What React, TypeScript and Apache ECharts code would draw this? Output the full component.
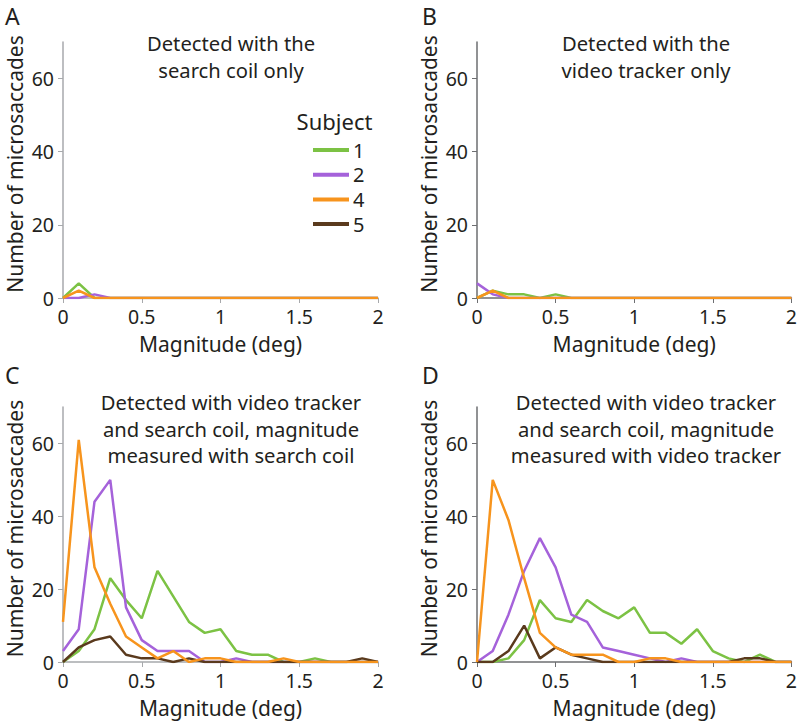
import React, { useEffect, useRef } from "react";
import * as echarts from "echarts";

// Bin centres (deg)
const X = [0, 0.1, 0.2, 0.3, 0.4, 0.5, 0.6, 0.7, 0.8, 0.9, 1.0, 1.1, 1.2, 1.3, 1.4, 1.5, 1.6, 1.7, 1.8, 1.9, 2.0];

const SUBJECTS = ["1", "2", "4", "5"];
const COLORS = ["#7cc244", "#a562da", "#f7941d", "#5a3a1d"];

// Panel A: detected with the search coil only
const A_S1 = [0, 4, 0, 0, 0, 0, 0, 0, 0, 0, 0, 0, 0, 0, 0, 0, 0, 0, 0, 0, 0];
const A_S2 = [0, 0, 1, 0, 0, 0, 0, 0, 0, 0, 0, 0, 0, 0, 0, 0, 0, 0, 0, 0, 0];
const A_S4 = [0, 2, 0, 0, 0, 0, 0, 0, 0, 0, 0, 0, 0, 0, 0, 0, 0, 0, 0, 0, 0];
const A_S5 = [0, 0, 0, 0, 0, 0, 0, 0, 0, 0, 0, 0, 0, 0, 0, 0, 0, 0, 0, 0, 0];

// Panel B: detected with the video tracker only
const B_S1 = [0, 2, 1, 1, 0, 1, 0, 0, 0, 0, 0, 0, 0, 0, 0, 0, 0, 0, 0, 0, 0];
const B_S2 = [4, 1, 0, 0, 0, 0, 0, 0, 0, 0, 0, 0, 0, 0, 0, 0, 0, 0, 0, 0, 0];
const B_S4 = [0, 2, 0, 0, 0, 0, 0, 0, 0, 0, 0, 0, 0, 0, 0, 0, 0, 0, 0, 0, 0];
const B_S5 = [0, 0, 0, 0, 0, 0, 0, 0, 0, 0, 0, 0, 0, 0, 0, 0, 0, 0, 0, 0, 0];

// Panel C: both, magnitude measured with search coil
const C_S1 = [0, 3, 9, 23, 17, 12, 25, 18, 11, 8, 9, 3, 2, 2, 0, 0, 1, 0, 0, 0, 0];
const C_S2 = [3, 9, 44, 50, 15, 6, 3, 3, 3, 0, 0, 1, 0, 0, 0, 0, 0, 0, 0, 0, 0];
const C_S4 = [11, 61, 26, 16, 7, 4, 1, 3, 0, 1, 1, 0, 0, 0, 1, 0, 0, 0, 0, 0, 0];
const C_S5 = [0, 4, 6, 7, 2, 1, 1, 0, 1, 0, 0, 0, 0, 0, 0, 0, 0, 0, 0, 1, 0];

// Panel D: both, magnitude measured with video tracker
const D_S1 = [0, 0, 1, 6, 17, 12, 11, 17, 14, 12, 15, 8, 8, 5, 9, 3, 1, 0, 2, 0, 0];
const D_S2 = [0, 3, 13, 25, 34, 26, 13, 11, 4, 3, 2, 1, 0, 1, 0, 0, 0, 0, 0, 0, 0];
const D_S4 = [0, 50, 39, 23, 8, 4, 2, 2, 2, 0, 0, 1, 1, 0, 0, 0, 0, 0, 0, 0, 0];
const D_S5 = [0, 0, 3, 10, 1, 4, 2, 1, 0, 0, 0, 0, 0, 0, 0, 0, 0, 1, 1, 0, 0];

const Y_TICKS = [0, 20, 40, 60];
const X_TICKS = [0, 0.5, 1, 1.5, 2];

const PANEL_LETTERS = ["A", "B", "C", "D"];
const PANEL_TITLES = [
  ["Detected with the", "search coil only"],
  ["Detected with the", "video tracker only"],
  ["Detected with video tracker", "and search coil, magnitude", "measured with search coil"],
  ["Detected with video tracker", "and search coil, magnitude", "measured with video tracker"],
];

const PANELS = [
  [A_S1, A_S2, A_S4, A_S5],
  [B_S1, B_S2, B_S4, B_S5],
  [C_S1, C_S2, C_S4, C_S5],
  [D_S1, D_S2, D_S4, D_S5],
];

const FONT = "'Noto Sans', 'Open Sans', sans-serif";
const TXT = "#231f20";

export default function App() {
  const ref = useRef<HTMLDivElement>(null);
  useEffect(() => {
    if (!ref.current) return;
    const chart = echarts.init(ref.current, null, { renderer: "svg" });

    const grids = [
      { left: 63, top: 42, width: 315, height: 256 },
      { left: 477, top: 42, width: 315, height: 256 },
      { left: 63, top: 407, width: 315, height: 255 },
      { left: 477, top: 407, width: 315, height: 255 },
    ];
    const axisColors = ["#a7a9ac", "#6d6e71", "#a7a9ac", "#6d6e71"];

    const xAxis = grids.map((_, i) => ({
      type: "value",
      gridIndex: i,
      min: 0,
      max: 2,
      interval: 0.5,
      name: "Magnitude (deg)",
      nameLocation: "middle",
      nameGap: 35,
      nameTextStyle: { fontFamily: FONT, fontSize: 21, color: TXT },
      axisLine: { show: true, lineStyle: { color: axisColors[i], width: 1.5 } },
      axisTick: { show: true, inside: false, length: 5, lineStyle: { color: axisColors[i] } },
      axisLabel: {
        customValues: X_TICKS,
        margin: 8,
        fontFamily: FONT,
        fontSize: 19.5,
        color: TXT,
        formatter: (v: number) => String(v),
      },
      splitLine: { show: false },
    }));

    const yAxis = grids.map((_, i) => ({
      type: "value",
      gridIndex: i,
      min: 0,
      max: 70,
      interval: 10,
      name: "Number of microsaccades",
      nameLocation: "middle",
      nameGap: 38,
      nameTextStyle: { fontFamily: FONT, fontSize: 21, color: TXT, padding: [0, 0, 0, 12] },
      axisLine: { show: true, lineStyle: { color: axisColors[i], width: 1.5 } },
      axisTick: { show: true, inside: false, length: 5, customValues: Y_TICKS, lineStyle: { color: axisColors[i] } },
      axisLabel: {
        customValues: Y_TICKS,
        margin: 9,
        fontFamily: FONT,
        fontSize: 19.5,
        color: TXT,
      },
      splitLine: { show: false },
    }));

    const series: any[] = [];
    PANELS.forEach((panel, gi) => {
      panel.forEach((vals, si) => {
        if (gi < 2 && si === 3) return; // subject 5 had none in A/B
        series.push({
          type: "line",
          name: SUBJECTS[si],
          xAxisIndex: gi,
          yAxisIndex: gi,
          data: X.map((x, k) => [x, vals[k]]),
          showSymbol: false,
          symbol: "none",
          lineStyle: { color: COLORS[si], width: 2.5 },
          itemStyle: { color: COLORS[si] },
          z: si === 2 ? 4 : 2 + si * 0.1,
          silent: true,
        });
      });
    });
    // legend placeholder series for subject 5 in A, to keep its colour
    series.push({
      type: "line",
      name: "5",
      xAxisIndex: 0,
      yAxisIndex: 0,
      data: [],
      showSymbol: false,
      lineStyle: { color: COLORS[3], width: 2.5 },
      itemStyle: { color: COLORS[3] },
    });

    const letterPos = [
      [5, 4],
      [422, 4],
      [5, 363],
      [422, 363],
    ];
    const titleCenters = [
      [231, 43],
      [646, 43],
      [231, 402],
      [646, 402],
    ];

    const graphic: any[] = [];
    PANEL_LETTERS.forEach((L, i) => {
      graphic.push({
        type: "text",
        left: letterPos[i][0],
        top: letterPos[i][1],
        style: { text: L, fontFamily: FONT, fontSize: 23, fill: TXT },
      });
    });
    PANEL_TITLES.forEach((lines, i) => {
      lines.forEach((ln, k) => {
        graphic.push({
          type: "text",
          x: titleCenters[i][0],
          y: titleCenters[i][1] + k * 26.7,
          style: {
            text: ln,
            fontFamily: FONT,
            fontSize: 20.2,
            fill: TXT,
            align: "center",
            verticalAlign: "middle",
          },
        });
      });
    });
    graphic.push({
      type: "text",
      x: 334.5,
      y: 121,
      style: {
        text: "Subject",
        fontFamily: FONT,
        fontSize: 22,
        fill: TXT,
        align: "center",
        verticalAlign: "middle",
      },
    });

    chart.setOption({
      animation: false,
      backgroundColor: "#ffffff",
      grid: grids,
      xAxis,
      yAxis,
      series,
      graphic,
      legend: {
        data: SUBJECTS,
        orient: "vertical",
        left: 313,
        top: 140,
        padding: 0,
        itemWidth: 36,
        itemHeight: 4,
        itemGap: 4.7,
        icon: "rect",
        selectedMode: false,
        textStyle: { fontFamily: FONT, fontSize: 20, lineHeight: 20, color: TXT, padding: [0, 0, 0, -1] },
      },
    });
    return () => chart.dispose();
  }, []);
  return (
    <div
      ref={ref}
      style={{ position: "fixed", left: 0, top: 0, width: 800, height: 723, background: "#fff" }}
    />
  );
}
